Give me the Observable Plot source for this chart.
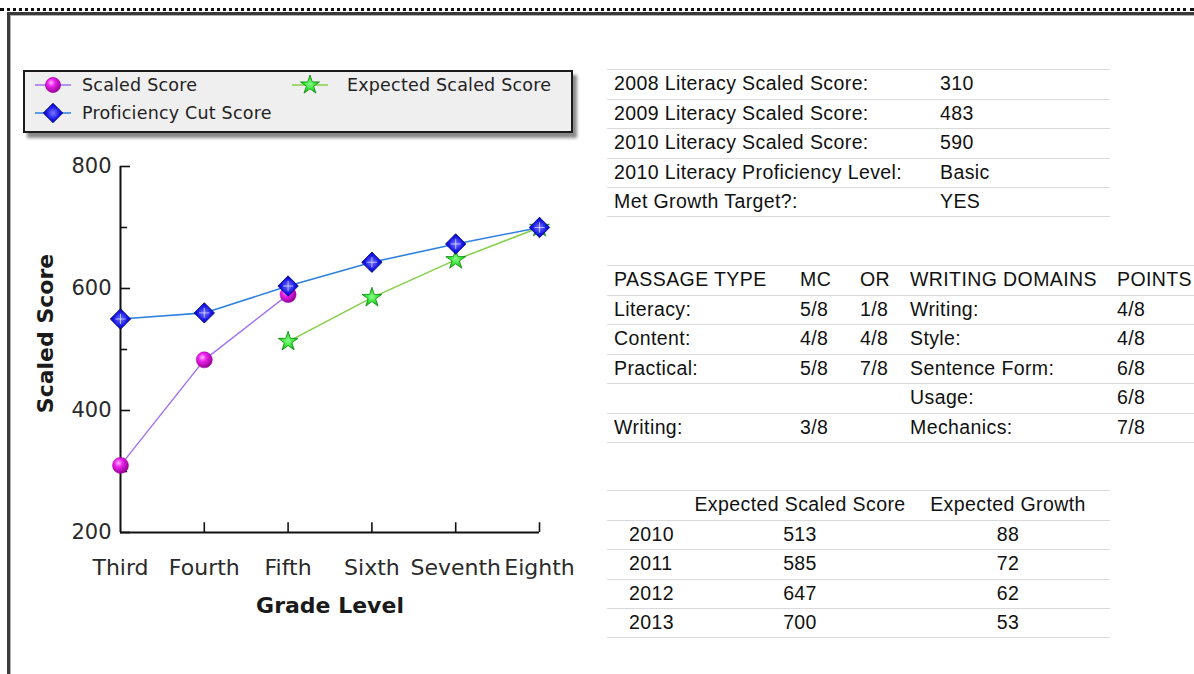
<!DOCTYPE html>
<html><head><meta charset="utf-8">
<script src="https://cdn.jsdelivr.net/npm/d3@7"></script>
<script src="https://cdn.jsdelivr.net/npm/@observablehq/plot@0.6"></script>
<style>
html,body{margin:0;padding:0;background:#fff;width:1194px;height:674px;overflow:hidden;position:relative;}
#dots{position:absolute;left:0;top:8px;width:1194px;border-top:3px dotted #111;}
#frame{position:absolute;left:7px;top:12px;width:1300px;height:800px;border-left:3px solid #3a3a3a;border-top:3px solid #3a3a3a;box-shadow:inset 1px 1px 0 #b0b0b0;}
#chart{position:absolute;left:0;top:0;}
#legend{position:absolute;left:23px;top:70px;width:546px;height:59px;border:2px solid #1a1a1a;background:#efefef;box-shadow:4px 5px 3px #8a8a8a;font-family:"DejaVu Sans";font-size:17.5px;color:#222;}
#legend .ic{position:absolute;width:40px;height:24px;}
#legend .tx{position:absolute;line-height:24px;white-space:nowrap;letter-spacing:0.2px;}
.tbl{position:absolute;font-family:"Liberation Sans",Arial,sans-serif;font-size:19.5px;letter-spacing:0.4px;color:#111;}
.tbl .row{position:absolute;left:0;height:29.6px;border-top:1.5px solid #dadada;box-sizing:border-box;}
.tbl .cell{position:absolute;top:0;line-height:27px;white-space:nowrap;}
</style>
</head><body>
<svg width="0" height="0" style="position:absolute">
<defs>
<radialGradient id="gMag" cx="38%" cy="35%" r="70%">
<stop offset="0" stop-color="#ffb8ff"/><stop offset="0.35" stop-color="#ee22ee"/><stop offset="1" stop-color="#8a008a"/>
</radialGradient>
<radialGradient id="gBlue" cx="50%" cy="50%" r="62%">
<stop offset="0" stop-color="#7a7aff"/><stop offset="0.55" stop-color="#1414e6"/><stop offset="1" stop-color="#000088"/>
</radialGradient>
<radialGradient id="gGreen" cx="50%" cy="50%" r="60%">
<stop offset="0" stop-color="#8cff8c"/><stop offset="0.6" stop-color="#22dd22"/><stop offset="1" stop-color="#0b8a0b"/>
</radialGradient>
</defs>
</svg>
<div id="dots"></div>
<div id="frame"></div>
<div id="chart"></div>
<div id="legend"></div>
<div id="t1" class="tbl"></div>
<div id="t2" class="tbl"></div>
<div id="t3" class="tbl"></div>
<script>
// ---------- chart data ----------
const grades = ["Third", "Fourth", "Fifth", "Sixth", "Seventh", "Eighth"];
const scaledScore = [310, 483, 590, null, null, null];
const cutScore = [550, 560, 604, 643, 673, 700];
const expectedScore = [null, null, 513, 585, 647, 700];
const yMajorTicks = [200, 400, 600, 800];
const yMinorTicks = [300, 500, 700];
const legendLabels = ["Scaled Score", "Proficiency Cut Score", "Expected Scaled Score"];

// ---------- table data ----------
const summaryLabels = ["2008 Literacy Scaled Score:", "2009 Literacy Scaled Score:", "2010 Literacy Scaled Score:", "2010 Literacy Proficiency Level:", "Met Growth Target?:"];
const summaryValues = ["310", "483", "590", "Basic", "YES"];

const passageHeader = ["PASSAGE TYPE", "MC", "OR", "WRITING DOMAINS", "POINTS"];
const passageTypes = ["Literacy:", "Content:", "Practical:", "", "Writing:"];
const passageMC = ["5/8", "4/8", "5/8", "", "3/8"];
const passageOR = ["1/8", "4/8", "7/8", "", ""];
const writingDomains = ["Writing:", "Style:", "Sentence Form:", "Usage:", "Mechanics:"];
const writingPoints = ["4/8", "4/8", "6/8", "6/8", "7/8"];

const expectedHeader = ["", "Expected Scaled Score", "Expected Growth"];
const expectedYears = ["2010", "2011", "2012", "2013"];
const expectedScaled = ["513", "585", "647", "700"];
const expectedGrowth = ["88", "72", "62", "53"];

// ---------- chart ----------
const idx = grades.map((g, i) => i);
const scaledData = scaledScore.map((v, i) => ({i, v})).filter(d => d.v != null);
const cutData = cutScore.map((v, i) => ({i, v})).filter(d => d.v != null);
const expData = expectedScore.map((v, i) => ({i, v})).filter(d => d.v != null);

const axisColor = "#111";
const plot = Plot.plot({
  width: 600, height: 674,
  marginLeft: 120, marginRight: 61, marginTop: 166, marginBottom: 142,
  x: {domain: [0, 5]},
  y: {domain: [200, 800]},
  style: {fontFamily: "DejaVu Sans", fontSize: "21px", background: "transparent", color: "#2a2a2a", overflow: "visible"},
  marks: [
    Plot.ruleX([0], {y1: 200, y2: 800, stroke: axisColor, strokeWidth: 2}),
    Plot.ruleY([200], {x1: 0, x2: 5, stroke: axisColor, strokeWidth: 2}),
    Plot.ruleY(yMajorTicks, {x1: 0, x2: 0.12, stroke: axisColor, strokeWidth: 1.6}),
    Plot.ruleY(yMinorTicks, {x1: 0, x2: 0.085, stroke: axisColor, strokeWidth: 1.6}),
    Plot.ruleX(idx.slice(1), {y1: 200, y2: 216, stroke: axisColor, strokeWidth: 1.6}),
    Plot.axisY({ticks: yMajorTicks, tickSize: 0, tickPadding: 9, label: null, fontSize: 21}),
    Plot.axisX({ticks: idx, tickFormat: i => grades[i], tickSize: 0, tickPadding: 27, label: null, fontSize: 22}),
    Plot.text(["Scaled Score"], {text: d => d, frameAnchor: "left", textAnchor: "middle", rotate: -90, dx: -75, dy: -16, fontWeight: "bold", fontSize: 22, fill: "#1a1a1a"}),
    Plot.text(["Grade Level"], {text: d => d, frameAnchor: "bottom", dy: 80, fontWeight: "bold", fontSize: 22, fill: "#1a1a1a"}),
    Plot.line(scaledData, {x: "i", y: "v", stroke: "#a070f0", strokeWidth: 1.4}),
    Plot.line(expData, {x: "i", y: "v", stroke: "#84d048", strokeWidth: 1.5}),
    Plot.line(cutData, {x: "i", y: "v", stroke: "#2f80e0", strokeWidth: 1.6}),
    Plot.dot(scaledData, {x: "i", y: "v", r: 8, fill: "url(#gMag)", stroke: "#b000b0", strokeWidth: 0.6}),
    Plot.dot(expData, {x: "i", y: "v", symbol: "star", r: 6.2, fill: "url(#gGreen)", stroke: "#0d8a0d", strokeWidth: 0.8}),
    Plot.dot(cutData, {x: "i", y: "v", symbol: d3.symbolDiamond2 || "diamond", r: 9.2, fill: "url(#gBlue)", stroke: "#00007a", strokeWidth: 0.8}),
    Plot.dot(cutData, {x: "i", y: "v", symbol: "plus", r: 3.4, stroke: "#d8d8ff", strokeWidth: 0.9, strokeOpacity: 0.85})
  ]
});
document.getElementById("chart").appendChild(plot);

// ---------- legend ----------
const legend = document.getElementById("legend");
const legendItems = [
  {label: legendLabels[0], stroke: "#a070f0", sym: d3.symbolCircle, size: Math.PI * 7.5 * 7.5, fill: "url(#gMag)", edge: "#b000b0", ix: 8, iy: 1, tx: 57},
  {label: legendLabels[1], stroke: "#2f80e0", sym: d3.symbolDiamond2 || d3.symbolDiamond, size: Math.PI * 8.8 * 8.8, fill: "url(#gBlue)", edge: "#00007a", ix: 8, iy: 29, tx: 57},
  {label: legendLabels[2], stroke: "#84d048", sym: d3.symbolStar, size: Math.PI * 6 * 6, fill: "url(#gGreen)", edge: "#0d8a0d", ix: 265, iy: 1, tx: 322}
];
for (const it of legendItems) {
  const ic = document.createElementNS("http://www.w3.org/2000/svg", "svg");
  ic.setAttribute("class", "ic");
  ic.setAttribute("width", 40); ic.setAttribute("height", 24);
  ic.style.left = it.ix + "px"; ic.style.top = it.iy + "px";
  ic.innerHTML = `<line x1="2" x2="38" y1="12" y2="12" stroke="${it.stroke}" stroke-width="1.6"/>` +
    `<path transform="translate(20,12)" d="${d3.symbol(it.sym, it.size)()}" fill="${it.fill}" stroke="${it.edge}" stroke-width="0.8"/>`;
  legend.appendChild(ic);
  const tx = document.createElement("div");
  tx.className = "tx";
  tx.style.left = it.tx + "px"; tx.style.top = it.iy + "px";
  tx.textContent = it.label;
  legend.appendChild(tx);
}

// ---------- tables ----------
function buildTable(el, left, top, width, rows, cols) {
  el.style.left = left + "px"; el.style.top = top + "px";
  const rh = 29.6;
  rows.forEach((cells, r) => {
    const row = document.createElement("div");
    row.className = "row";
    row.style.top = (r * rh) + "px";
    row.style.width = width + "px";
    if (r === rows.length - 1) row.style.borderBottom = "1.5px solid #dadada";
    cells.forEach((c, k) => {
      const cell = document.createElement("div");
      cell.className = "cell";
      const col = cols[k];
      if (col.center) { cell.style.left = (col.x - 150) + "px"; cell.style.width = "300px"; cell.style.textAlign = "center"; }
      else cell.style.left = col.x + "px";
      cell.textContent = c;
      row.appendChild(cell);
    });
    el.appendChild(row);
  });
}
buildTable(document.getElementById("t1"), 607, 69, 503,
  summaryLabels.map((l, i) => [l, summaryValues[i]]),
  [{x: 7}, {x: 333}]);
buildTable(document.getElementById("t2"), 607, 265, 640,
  [passageHeader].concat(passageTypes.map((p, i) => [p, passageMC[i], passageOR[i], writingDomains[i], writingPoints[i]])),
  [{x: 7}, {x: 193}, {x: 253}, {x: 303}, {x: 510}]);
buildTable(document.getElementById("t3"), 607, 490, 503,
  [expectedHeader].concat(expectedYears.map((y, i) => [y, expectedScaled[i], expectedGrowth[i]])),
  [{x: 22}, {x: 193, center: true}, {x: 401, center: true}]);
</script>
</body></html>
